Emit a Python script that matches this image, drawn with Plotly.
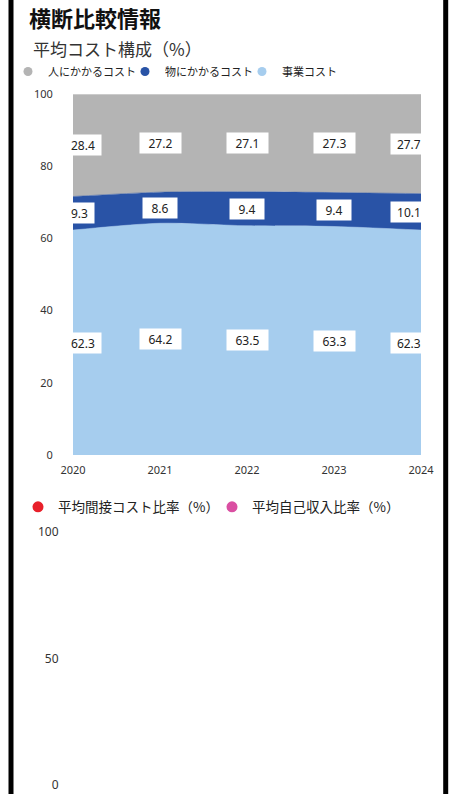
import plotly.graph_objects as go

years = ["2020", "2021", "2022", "2023", "2024"]
jigyo_cost = [62.3, 64.2, 63.5, 63.3, 62.3]      # 事業コスト
mono_cost = [9.3, 8.6, 9.4, 9.4, 10.1]           # 物にかかるコスト
hito_cost = [28.4, 27.2, 27.1, 27.3, 27.7]       # 人にかかるコスト

indirect_ratio = [None] * len(years)   # 平均間接コスト比率（%）
own_income_ratio = [None] * len(years)  # 平均自己収入比率（%）

C_HITO = "#b4b4b4"
C_MONO = "#2953a6"
C_JIGYO = "#a6cdee"
C_RED = "#e8202a"
C_PINK = "#da4fa2"

FONT = "Noto Sans, Noto Sans CJK JP, sans-serif"
JP = "Noto Sans CJK JP"
W, H = 461, 794
OFF = 0  # body margin removed below, figure starts at the window corner


def X(px):
    return (px - OFF) / W


def Y(py):
    return 1 - (py - OFF) / H


def text_w(s, size=12):
    return sum(0.572 * size if c.isdigit() else 0.27 * size for c in s)


fig = go.Figure()

for name, vals, col, lcol, lw in [("事業コスト", jigyo_cost, C_JIGYO, C_JIGYO, 0.5),
                                  ("物にかかるコスト", mono_cost, C_MONO, C_MONO, 0.5),
                                  ("人にかかるコスト", hito_cost, C_HITO, "#d2d2d2", 1.5)]:
    fig.add_trace(go.Scatter(
        x=years, y=vals, name=name, mode="lines", stackgroup="one",
        line=dict(color=lcol, width=lw, shape="spline", smoothing=0.8),
        fillcolor=col, showlegend=False,
        xaxis="x", yaxis="y"))

for name, col in [("人にかかるコスト", C_HITO), ("物にかかるコスト", C_MONO), ("事業コスト", C_JIGYO)]:
    fig.add_trace(go.Scatter(
        x=[years[0]], y=[None], name=name, mode="markers",
        marker=dict(color=col, size=9, symbol="circle"),
        legend="legend", xaxis="x", yaxis="y", showlegend=True))

for name, vals, col in [("平均間接コスト比率（%）", indirect_ratio, C_RED),
                        ("平均自己収入比率（%）", own_income_ratio, C_PINK)]:
    fig.add_trace(go.Scatter(
        x=years, y=vals, name=name, mode="markers",
        marker=dict(color=col, size=11, symbol="circle"),
        legend="legend2", xaxis="x2", yaxis="y2", showlegend=True))

LBL = 12
annotations = []
bands = [jigyo_cost, mono_cost, hito_cost]
for i, yr in enumerate(years):
    base = 0.0
    for vals in bands:
        v = vals[i]
        mid = base + v / 2
        base += v
        s = f"{v:.1f}"
        tw = text_w(s, LBL)
        if i == 0:
            anchor, xs, al, wd = "left", -6, "left", tw + 3
        elif i == len(years) - 1:
            anchor, xs, al, wd = "right", 4, "right", tw + 3
        else:
            anchor, xs, al, wd = "center", 0, "center", tw + 11
        annotations.append(dict(
            x=i, y=mid, xref="x", yref="y", text=s, showarrow=False,
            xanchor=anchor, xshift=xs, align=al, width=wd, height=14,
            bgcolor="white", borderpad=3,
            font=dict(family=FONT, size=LBL, color="#222")))

annotations.append(dict(
    x=X(31), y=Y(48), xref="paper", yref="paper", text="平均コスト構成（%）",
    showarrow=False, xanchor="left", yanchor="middle",
    font=dict(family=JP, size=17, color="#333")))

fig.update_layout(
    width=W, height=H, autosize=False,
    margin=dict(l=0, r=0, t=0, b=0, pad=0, autoexpand=False),
    paper_bgcolor="white", plot_bgcolor="white",
    font=dict(family=FONT, color="#333"),
    title=dict(text="<b>横断比較情報</b>", x=X(29), xanchor="left", y=Y(19.5), yanchor="middle",
               font=dict(family=JP, size=22, color="#111")),
    xaxis=dict(domain=[X(73), X(421)], type="category", range=[0, 4],
               showgrid=False, zeroline=False, showline=False, ticks="outside", ticklen=5,
               tickcolor="rgba(0,0,0,0)", automargin=False,
               tickfont=dict(family=FONT, size=11, color="#333"), anchor="y"),
    yaxis=dict(domain=[Y(455), Y(94)], range=[0, 100], tickvals=[0, 20, 40, 60, 80, 100],
               showgrid=False, zeroline=False, showline=False, ticks="outside", ticklen=17,
               tickcolor="rgba(0,0,0,0)", automargin=False,
               tickfont=dict(family=FONT, size=11, color="#333"), anchor="x"),
    xaxis2=dict(domain=[X(73), X(421)], visible=False, anchor="y2", type="category", range=[0, 4]),
    yaxis2=dict(domain=[Y(785), Y(532)], range=[0, 100], tickvals=[0, 50, 100],
                showgrid=False, zeroline=False, showline=False, ticks="outside", ticklen=11,
                tickcolor="rgba(0,0,0,0)", automargin=False,
                tickfont=dict(family=FONT, size=12, color="#333"), anchor="x2"),
    legend=dict(orientation="h", x=X(8), xanchor="left", y=Y(71.5), yanchor="middle",
                traceorder="normal", entrywidth=72, entrywidthmode="pixels",
                font=dict(family=JP, size=11, color="#222"),
                bgcolor="rgba(0,0,0,0)"),
    legend2=dict(orientation="h", x=X(18), xanchor="left", y=Y(507), yanchor="middle",
                 traceorder="normal", entrywidth=149, entrywidthmode="pixels",
                 font=dict(family=JP, size=13.5, color="#222"),
                 bgcolor="rgba(0,0,0,0)"),
    annotations=annotations,
    shapes=[
        dict(type="line", xref="paper", yref="paper", x0=X(11), x1=X(11), y0=0, y1=1,
             line=dict(color="black", width=5)),
        dict(type="line", xref="paper", yref="paper", x0=X(445.7), x1=X(445.7), y0=0, y1=1,
             line=dict(color="black", width=5)),
    ],
)

fig.write_html("out.html", config={"displayModeBar": False},
               post_script="document.body.style.margin='0';")
